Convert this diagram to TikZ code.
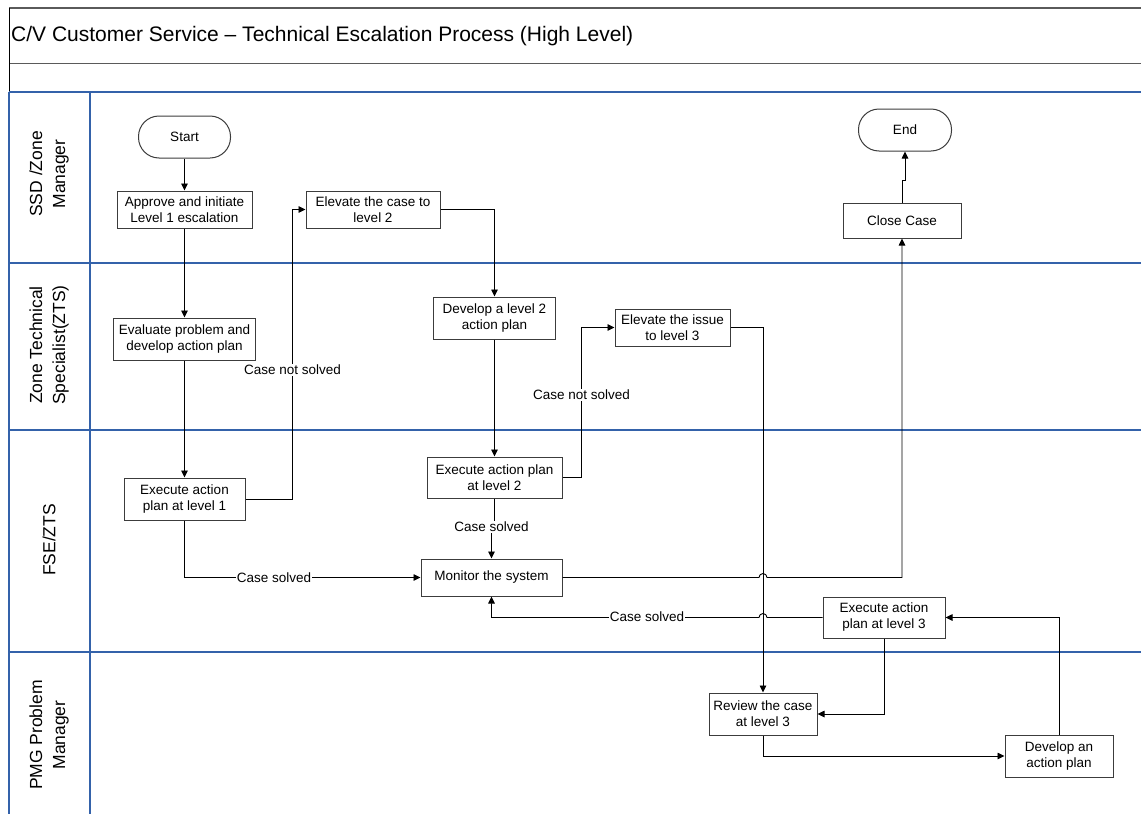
\documentclass[tikz,border=0pt]{standalone}
\usepackage{fontspec}
\setmainfont{Liberation Sans}
\usetikzlibrary{arrows.meta}
\definecolor{laneblue}{RGB}{52,98,170}
\definecolor{framegray}{RGB}{90,90,90}
\definecolor{boxgray}{RGB}{60,60,60}

\begin{document}
\begin{tikzpicture}[x=1pt,y=-1pt,
  box/.style={draw=boxgray, line width=1pt, fill=white, align=center, inner sep=0pt,
              font=\fontsize{13.5}{16}\selectfont},
  sz/.style 2 args={minimum width=#1pt, minimum height=#2pt},
  term/.style={box, rounded corners=20.5pt},
  flow/.style={draw=black, line width=0.9pt},
  arr/.style={flow, -{Triangle[length=7pt,width=6.5pt]}},
  lbl/.style={fill=white, inner sep=1pt, font=\fontsize{13.5}{16}\selectfont},
  lane/.style={draw=laneblue, line width=2pt},
  lanetext/.style={rotate=90, align=center, font=\fontsize{17.5}{23}\selectfont},
  frame/.style={draw=framegray, line width=1.5pt},
]
\useasboundingbox (0,0) rectangle (1141,814);

% title block
\draw[frame] (9,8) -- (1141,8);
\draw[frame] (9,63.5) -- (1141,63.5);
\draw[black, line width=1pt] (9,8) -- (9,92);
\node[anchor=west, inner sep=0pt, font=\fontsize{21}{25}\selectfont] (title) at (11,36)
  {C/V Customer Service – Technical Escalation Process (High Level)};

% swimlanes
\draw[lane] (9,92) -- (1141,92);
\draw[lane] (9,262.5) -- (1141,262.5);
\draw[lane] (9,429.5) -- (1141,429.5);
\draw[lane] (9,651.5) -- (1141,651.5);
\draw[lane] (9,92) -- (9,814);
\draw[lane] (90,92) -- (90,814);

\node[lanetext] (l1) at (49,174) {SSD /Zone\\Manager};
\node[lanetext] (l2) at (49,345) {Zone Technical\\Specialist(ZTS)};
\node[lanetext] (l3) at (49,540) {FSE/ZTS};
\node[lanetext] (l4) at (49,735) {PMG Problem\\Manager};

% process steps
\node[term, sz={92}{42}]   (start) at (184.5,137)   {Start};
\node[box,  sz={135}{37}]  (app)   at (184.5,209.5) {Approve and initiate\\Level 1 escalation};
\node[box,  sz={134}{37}]  (el2)   at (373,209.5)   {Elevate the case to\\level 2};
\node[box,  sz={142}{42}]  (eval)  at (184.5,339)   {Evaluate problem and\\develop action plan};
\node[box,  sz={122}{42}]  (d2)    at (494.5,318)   {Develop a level 2\\action plan};
\node[box,  sz={115}{37}]  (el3)   at (672.5,327.5) {Elevate the issue\\to level 3};
\node[box,  sz={121}{42}]  (e1)    at (184.5,499)   {Execute action\\plan at level 1};
\node[box,  sz={135}{41}]  (e2)    at (494.5,477.5) {Execute action plan\\at level 2};
\node[box,  sz={141}{37}]  (mon)   at (491.5,577.5) {Monitor the system};
\node[box,  sz={122}{41}]  (e3)    at (884,617.5)   {Execute action\\plan at level 3};
\node[box,  sz={108}{42}]  (rev)   at (763,714)     {Review the case\\at level 3};
\node[box,  sz={108}{42}]  (dev3)  at (1059,756)    {Develop an\\action plan};
\node[term, sz={93}{42}]   (end)   at (905,130)     {End};
\node[box,  sz={118}{35}]  (close) at (902,220.5)   {Close Case};

% connectors
\draw[arr] (start) -- (app);
\draw[arr] (app) -- (eval);
\draw[arr] (eval) -- (e1);
\draw[arr] (e1.east) -- ++(47,0) coordinate (nsA) |- (el2.west);
\node[lbl] (lblA) at (nsA |- 0,370) {Case not solved};
\draw[arr] (el2.east) -| (d2.north);
\draw[arr] (d2) -- (e2);
\draw[arr] (e2.east) -- ++(19,0) coordinate (nsB) |- (el3.west);
\node[lbl] (lblB) at (nsB |- 0,395) {Case not solved};
\draw[arr] (e2.south) -- (494.5,527) -| (mon.north);
\node[lbl] (lblC) at (491.5,527) {Case solved};
\draw[arr] (e1.south) |- (mon.west);
\node[lbl] (lblD) at (274,577.5) {Case solved};

% line hops where the level 3 path crosses
\coordinate (hopA) at (rev.north |- mon.east);
\coordinate (hopB) at (rev.north |- e3.west);
\draw[arr] (mon.east) -- ([xshift=-4pt]hopA) arc[start angle=180, end angle=0, radius=4pt] -| (close.south);
\draw[arr] (close.north) -- ++(0,-22) -| (end.south);
\draw[arr] (el3.east) -| (rev.north);
\draw[arr] (e3.west) -- ([xshift=4pt]hopB) arc[start angle=0, end angle=180, radius=4pt] -| (mon.south);
\node[lbl] (lblE) at (647,616.5) {Case solved};
\draw[arr] (e3.south) |- (rev.east);
\draw[arr] (rev.south) |- (dev3.west);
\draw[arr] (dev3.north) |- (e3.east);
\end{tikzpicture}
\end{document}
